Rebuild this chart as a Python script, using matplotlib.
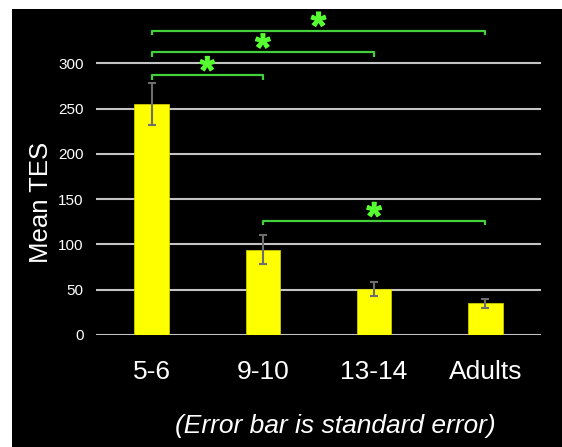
import matplotlib
matplotlib.use("Agg")
import matplotlib.pyplot as plt
import matplotlib.patheffects as pe
from matplotlib.patches import Rectangle

plt.rcParams['font.family'] = ['Liberation Sans', 'DejaVu Sans']

# mean TES per age group, with standard error
groups = ['5-6', '9-10', '13-14', 'Adults']
mean_tes = [255, 94, 51, 35]
std_err = [23.5, 16, 8, 5]

# significant pairwise differences (group index pairs)
sig_pairs = [(0, 1), (0, 2), (0, 3), (1, 3)]
bracket_y = [287, 312, 336, 126]

fig = plt.figure(figsize=(5.62, 4.47), dpi=100, facecolor='white')
# black slide background
fig.patches.append(Rectangle((12 / 562, 0), 1, 1 - 9 / 447, transform=fig.transFigure,
                             facecolor='black', edgecolor='none', zorder=-1))

ax = fig.add_axes([96 / 562, 1 - 335 / 447, 445 / 562, 317.1 / 447])
ax.set_zorder(1)
ax.set_facecolor('none')

x = range(len(groups))
ax.bar(x, mean_tes, width=0.31, color='#ffff00', edgecolor='#d8d800', linewidth=0.5, zorder=3)
ax.errorbar(x, mean_tes, yerr=std_err, fmt='none', ecolor='#6e6e6e',
            elinewidth=1.5, capsize=3, capthick=1.5, zorder=4)

ax.set_xlim(-0.5, 3.5)
ax.set_ylim(0, 350)
ax.set_yticks(range(0, 301, 50))
ax.set_xticks(list(x))
ax.set_xticklabels(groups)
ax.yaxis.grid(True, color='#c4c4c4', linewidth=1.5, zorder=1)
ax.set_axisbelow(True)
for s in ax.spines.values():
    s.set_visible(False)
ax.tick_params(axis='y', length=0, pad=9, labelsize=11, labelcolor='white')
ax.tick_params(axis='x', length=0, pad=18, labelsize=19, labelcolor='white')

fig.text(41 / 562, 1 - 202 / 447, 'Mean TES', rotation=90, ha='center', va='center',
         fontsize=18.5, color='white')

# significance brackets
for (a, b), y in zip(sig_pairs, bracket_y):
    ax.plot([a, a, b, b], [y - 5, y, y, y - 5], color='#44d03c', linewidth=1.6,
            clip_on=False, zorder=5, solid_capstyle='butt')
    ax.text((a + b) / 2, y + 2, '*', ha='center', va='center', fontsize=28,
            fontweight='bold', color='#55ff30', clip_on=False, zorder=6,
            path_effects=[pe.withStroke(linewidth=0.8, foreground='#55ff30')])

fig.text(335 / 562, 1 - 426 / 447, '(Error bar is standard error)', ha='center', va='center',
         fontsize=19, style='italic', color='white')

fig.savefig('out.png', dpi=100, facecolor=fig.get_facecolor())
